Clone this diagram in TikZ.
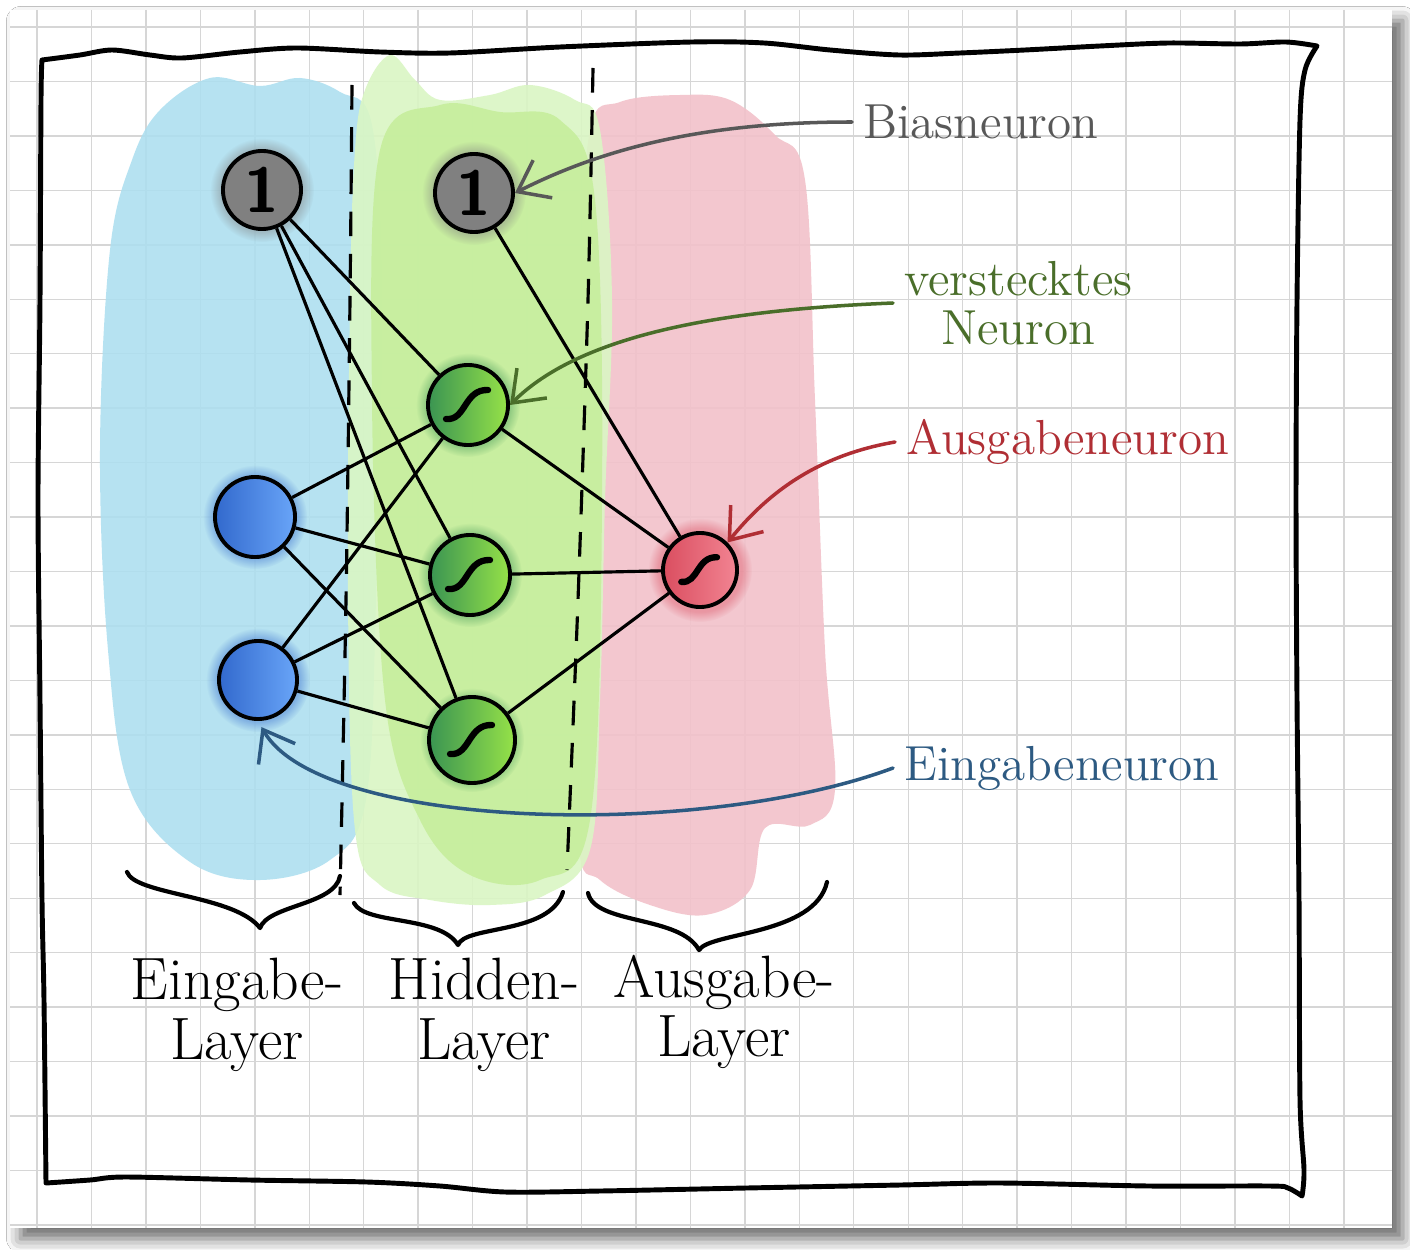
\documentclass[tikz,border=0pt]{standalone}
\usepackage{tikz}
\usetikzlibrary{arrows.meta,positioning,fadings,shadows.blur}
\definecolor{paperline}{RGB}{214,214,214}
\definecolor{areablue}{RGB}{172,223,240}
\definecolor{areagreen}{RGB}{198,238,156}
\definecolor{arealight}{RGB}{218,246,196}
\definecolor{areapink}{RGB}{242,194,202}
\definecolor{biasgrey}{RGB}{88,88,88}
\definecolor{hidgreen}{RGB}{74,110,42}
\definecolor{outred}{RGB}{176,46,52}
\definecolor{inblue}{RGB}{45,90,130}
\definecolor{biasfill}{RGB}{128,128,128}
\definecolor{indark}{RGB}{50,105,205}
\definecolor{inlight}{RGB}{105,165,248}
\definecolor{hiddark}{RGB}{58,148,82}
\definecolor{hidlight}{RGB}{150,226,72}
\definecolor{outdark}{RGB}{218,78,96}
\definecolor{outlight}{RGB}{242,132,146}
\newcommand{\layerfont}{\fontsize{17}{17}\selectfont}
\newcommand{\notefont}{\fontsize{14}{14}\selectfont}
\tikzset{
  gridline/.style={paperline, line width=0.4pt},
  sheetframe/.style={line width=1.4pt, line join=round, line cap=round},
  divider/.style={line width=0.9pt, dash pattern=on 7pt off 5pt},
  neuron/.style={circle, draw=black, line width=1.1pt, minimum size=0.78cm, inner sep=0pt},
  biasnode/.style={neuron, fill=biasfill, font=\fontsize{18}{18}\selectfont\sffamily\bfseries},
  innode/.style={neuron, left color=indark, right color=inlight},
  hidnode/.style={neuron, left color=hiddark, right color=hidlight},
  outnode/.style={neuron, left color=outdark, right color=outlight},
  link/.style={line width=0.9pt},
  pointer/.style={line width=1pt, line cap=round, -{Straight Barb[length=8pt,width=12pt]}},
  notetext/.style={anchor=west, inner sep=3pt, font=\notefont},
  layertext/.style={align=center, font=\layerfont},
  bracestroke/.style={line width=1.2pt, line cap=round, line join=round},
  sigmoid/.pic={\draw[line width=1.8pt, line cap=round] (-22,14) .. controls (-2,16) and (-4,-16) .. (20,-15);}
}
\begin{document}
\begin{tikzpicture}[x=0.01cm, y=-0.01cm]
  \useasboundingbox (0,0) rectangle (1410,1249);
  \fill[white] (0,0) rectangle (1410,1249);
  % sheet of grid paper
  \fill[white, blur shadow={shadow xshift=3pt, shadow yshift=-3pt, shadow blur radius=4pt, shadow opacity=60}] (10,10) rectangle (1392,1228);
  \foreach \k in {0,...,24}
    \draw[gridline] ({37+54.45*\k},10) -- ({37+54.45*\k},1228);
  \foreach \k in {0,...,22}
    \draw[gridline] (10,{27+54.45*\k}) -- (1392,{27+54.45*\k});

  % coloured layer areas
  \fill[areablue, fill opacity=.88] plot[smooth cycle, tension=.6] coordinates {
    (160,110) (210,78) (260,86) (300,78) (340,92) (372,125) (382,300) (376,600)
    (366,800) (330,860) (260,880) (190,862) (130,790) (108,650) (100,450) (110,250) (132,160)};
  \fill[areapink, fill opacity=.9] plot[smooth cycle, tension=.6] coordinates {
    (590,130) (620,102) (680,95) (730,100) (775,135) (805,180) (815,400) (825,650)
    (835,790) (810,825) (765,828) (750,890) (705,915) (650,905) (600,880) (578,840) (575,600) (580,300)};
  \fill[arealight, fill opacity=.9] plot[smooth cycle, tension=.6] coordinates {
    (365,90) (390,55) (415,80) (440,100) (490,95) (530,85) (575,100) (600,130) (612,300)
    (605,500) (600,700) (590,850) (545,895) (490,905) (430,900) (380,885) (355,830) (348,600) (350,300) (355,150)};
  \fill[areagreen, fill opacity=.9] plot[smooth cycle, tension=.6] coordinates {
    (380,150) (440,105) (500,112) (560,120) (595,200) (602,500) (590,820) (540,880)
    (470,875) (420,820) (385,700) (372,400)};

  % hand drawn frame
  \draw[sheetframe] plot[smooth] coordinates {(42,60) (80,55) (112,50) (150,55) (182,58) (240,52) (297,48)
      (380,52) (450,53) (560,47) (692,42) (764,43) (830,50) (899,55) (960,53) (1025,50) (1100,46)
      (1169,43) (1240,44) (1286,42) (1317,46)}
    -- plot[smooth] coordinates {(1317,46) (1305,70) (1300,120) (1297,300) (1296,500) (1297,700)
      (1299,900) (1300,1100) (1304,1170) (1302,1196)}
    -- plot[smooth] coordinates {(1302,1196) (1288,1188) (1270,1186) (1150,1186) (1000,1183) (900,1185)
      (746,1188) (600,1191) (505,1192) (440,1186) (367,1182) (250,1180) (126,1177) (90,1180) (46,1183)}
    -- plot[smooth] coordinates {(46,1183) (44,1000) (42,900) (40,700) (38,500) (40,300) (41,100) (42,60)};

  % layer dividers
  \draw[divider] plot[smooth] coordinates {(352,85) (350,300) (346,600) (340,895)};
  \draw[divider] plot[smooth] coordinates {(593,68) (588,300) (578,600) (567,870)};

  % neuron positions and glow
  \coordinate (pb1) at (262,190);
  \coordinate (pb2) at (474,193);
  \coordinate (pi1) at (255,517);
  \coordinate (pi2) at (258,680);
  \coordinate (ph1) at (468,405);
  \coordinate (ph2) at (470,575);
  \coordinate (ph3) at (472,740);
  \coordinate (pout) at (700,570);
  \foreach \p/\c in {pb1/biasfill, pb2/biasfill, pi1/indark, pi2/indark, ph1/hiddark, ph2/hiddark, ph3/hiddark, pout/outdark}
    \fill[\c, opacity=.4, path fading=circle with fuzzy edge 20 percent] (\p) circle (52);

  % neurons
  \node[biasnode] (b1) at (pb1) {1};
  \node[biasnode] (b2) at (pb2) {1};
  \node[innode, minimum size=0.8cm] (i1) at (pi1) {};
  \node[innode] (i2) at (pi2) {};
  \node[hidnode, minimum size=0.8cm] (h1) at (ph1) {};
  \node[hidnode, minimum size=0.8cm] (h2) at (ph2) {};
  \node[hidnode, minimum size=0.86cm] (h3) at (ph3) {};
  \node[outnode, minimum size=0.74cm] (out) at (pout) {};
  \pic at (h1) {sigmoid};
  \pic at (h2) {sigmoid};
  \pic at (h3) {sigmoid};
  \pic[scale=.85] at (out) {sigmoid};

  % weights
  \foreach \h in {h1,h2,h3} {
    \draw[link] (b1) -- (\h);
    \draw[link] (i1) -- (\h);
    \draw[link] (i2) -- (\h);
    \draw[link] (\h) -- (out);
  }
  \draw[link] (b2) -- (out);

  % annotations
  \node[notetext, text=biasgrey] (lbias) at (852,122) {Biasneuron};
  \node[notetext, text=hidgreen, align=center] (lhid) at (893,303) {verstecktes\\Neuron};
  \node[notetext, text=outred] (lout) at (895,442) {Ausgabeneuron};
  \node[notetext, text=inblue] (lin) at (893,768) {Eingabeneuron};
  \draw[pointer, biasgrey] (lbias.west) .. controls (700,122) and (600,150) .. (b2.east);
  \draw[pointer, hidgreen] (lhid.west) .. controls (720,310) and (580,335) .. (h1.east);
  \draw[pointer, outred] (lout.west) .. controls (820,455) and (770,490) .. (out.45);
  \draw[pointer, inblue, shorten >=2pt] (lin.west) .. controls (700,840) and (320,830) .. (i2.south);

  % braces and layer names
  \draw[bracestroke] (127,872) .. controls (135,895) and (235,895) .. (260,928) .. controls (268,905) and (335,905) .. (340,876);
  \draw[bracestroke] (354,903) .. controls (365,925) and (440,915) .. (458,945) .. controls (465,925) and (550,935) .. (563,892);
  \draw[bracestroke] (588,893) .. controls (595,925) and (680,915) .. (699,950) .. controls (710,932) and (815,935) .. (827,882);
  \node[layertext] (tin) at (237,1015) {Eingabe-\\Layer};
  \node[layertext] (thid) at (484,1015) {Hidden-\\Layer};
  \node[layertext] (tout) at (724,1012) {Ausgabe-\\Layer};
\end{tikzpicture}
\end{document}
